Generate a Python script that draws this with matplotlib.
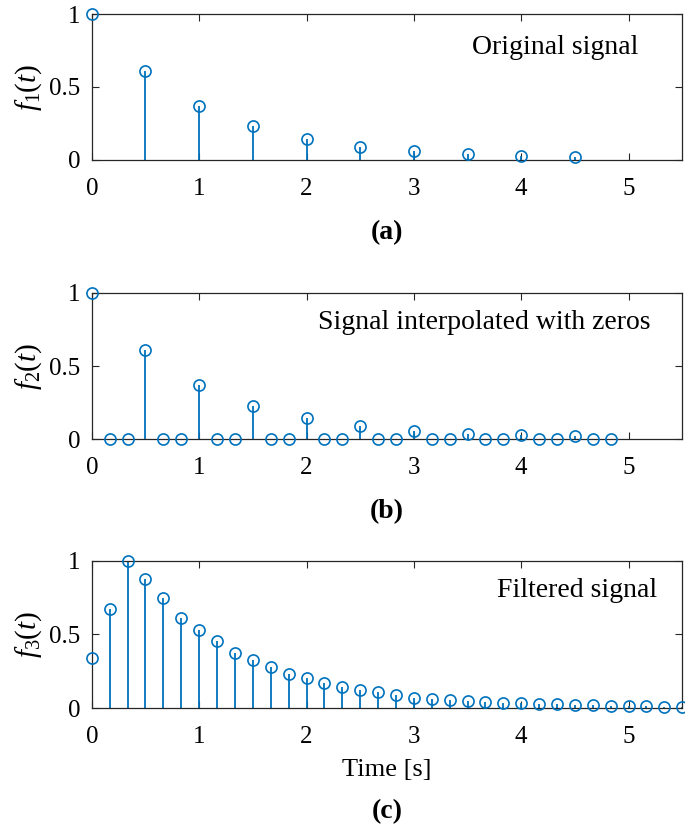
import numpy as np
import matplotlib
matplotlib.use('Agg')
import matplotlib.pyplot as plt

plt.rcParams['font.family'] = ['Liberation Serif', 'DejaVu Serif']
plt.rcParams['mathtext.fontset'] = 'custom'
plt.rcParams['mathtext.rm'] = 'Liberation Serif'
plt.rcParams['mathtext.it'] = 'Liberation Serif:italic'
plt.rcParams['mathtext.bf'] = 'Liberation Serif:bold'

# (a) original signal, sampled every 0.5 s
t_orig = [0, 0.5, 1, 1.5, 2, 2.5, 3, 3.5, 4, 4.5]
f1 = [1.0, 0.611, 0.371, 0.229, 0.143, 0.088, 0.057, 0.038, 0.027, 0.020]

# (b) upsampled by 3 with zeros inserted
t_up = [i / 6 for i in range(30)]
f2 = [1.0, 0, 0, 0.611, 0, 0, 0.371, 0, 0, 0.229, 0, 0, 0.143, 0, 0,
      0.088, 0, 0, 0.057, 0, 0, 0.038, 0, 0, 0.027, 0, 0, 0.020, 0, 0]

# (c) filtered signal
t_filt = [i / 6 for i in range(34)]
f3 = [0.341, 0.675, 1.0, 0.879, 0.746, 0.613, 0.533, 0.455, 0.375, 0.327,
      0.279, 0.229, 0.201, 0.172, 0.142, 0.124, 0.106, 0.087, 0.071, 0.062,
      0.053, 0.046, 0.041, 0.037, 0.032, 0.027, 0.025, 0.022, 0.020, 0.017,
      0.013, 0.011, 0.009, 0.007]

panels = [
    (t_orig, f1, r'$f_{\mathit{1}}(t)$', 'Original signal', '(a)', (0.925, 0.77)),
    (t_up, f2, r'$f_{\mathit{2}}(t)$', 'Signal interpolated with zeros', '(b)', (0.947, 0.80)),
    (t_filt, f3, r'$f_{\mathit{3}}(t)$', 'Filtered signal', '(c)', (0.958, 0.80)),
]
# [left, bottom, width, height] in figure fraction
positions = [
    [0.134, 0.808, 0.862, 0.175],
    [0.134, 0.472, 0.862, 0.176],
    [0.134, 0.149, 0.862, 0.177],
]
# y centre of the panel tags, in pixels from the top
tag_y_px = [233, 512, 812]

blue = '#0072BD'
spine_color = '#262626'

fig = plt.figure(figsize=(6.85, 8.32), dpi=100)

for (t, f, ylab, note, tag, txy), pos, ty in zip(panels, positions, tag_y_px):
    ax = fig.add_axes(pos)
    markerline, stemlines, baseline = ax.stem(t, f, basefmt=' ')
    plt.setp(markerline, marker='o', markerfacecolor='none', markeredgecolor=blue,
             markersize=8, markeredgewidth=1.2, clip_on=False, zorder=4)
    plt.setp(stemlines, color=blue, linewidth=1.3)
    ax.set_xlim(0, 5.5)
    ax.set_ylim(0, 1)
    ax.set_xticks([0, 1, 2, 3, 4, 5])
    ax.set_yticks([0, 0.5, 1])
    ax.set_yticklabels(['0', '0.5', '1'])
    ax.tick_params(direction='in', top=True, right=True, length=5, width=0.8,
                   color=spine_color, labelsize=18)
    ax.tick_params(axis='x', pad=13)
    ax.tick_params(axis='y', pad=8)
    for s in ax.spines.values():
        s.set_color(spine_color)
        s.set_linewidth(0.9)
    ax.set_ylabel(ylab, fontsize=21, labelpad=4)
    ax.text(txy[0], txy[1], note, transform=ax.transAxes, ha='right', va='center',
            fontsize=20)
    fig.text(pos[0] + pos[2] / 2, 1 - ty / 832, tag, ha='center', va='center',
             fontsize=20, fontweight='bold')
    if tag == '(c)':
        ax.set_xlabel('Time [s]', fontsize=19, labelpad=8)

fig.savefig('out.png', dpi=100)
